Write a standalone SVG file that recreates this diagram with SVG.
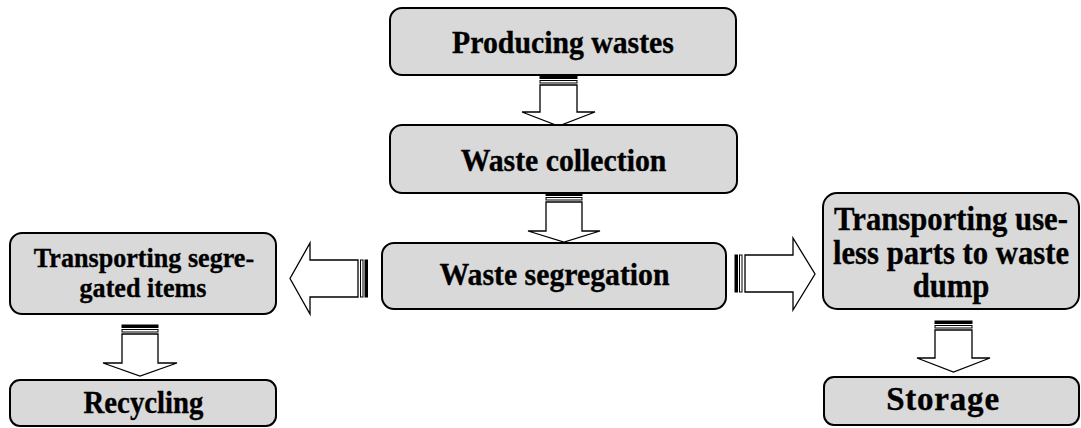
<svg xmlns="http://www.w3.org/2000/svg" width="1081" height="428" viewBox="0 0 1081 428">
<style>
.box{fill:#d9d9d9;stroke:#000;stroke-width:2}
.t{font-family:"Liberation Serif","Times New Roman",serif;font-weight:bold;fill:#000;stroke:#000;stroke-width:0.35;text-anchor:middle}
.arr{fill:#fff;stroke:#000;stroke-width:1.3;stroke-linejoin:miter}
.sk{fill:#000;stroke:#000;stroke-width:1}
.sw{fill:#fff;stroke:#000;stroke-width:1}
</style>
<rect width="1081" height="428" fill="#fff"/>
<g id="connectors">
  <g id="a1">
    <rect class="sk" x="540" y="76" width="37" height="2.5"/>
    <rect class="sw" x="540" y="80.5" width="37" height="2.5"/>
    <polygon class="arr" points="540,85 540,112 522,112 558.5,126 595,112 577,112 577,85"/>
  </g>
  <g id="a2">
    <rect class="sk" x="546" y="193" width="36" height="2.5"/>
    <rect class="sw" x="546" y="197.5" width="36" height="2.5"/>
    <polygon class="arr" points="546,202 546,231 528,231 564,242 600,231 582,231 582,202"/>
  </g>
  <g id="a3">
    <rect class="sk" x="365" y="260" width="2.5" height="37"/>
    <rect class="sw" x="360.5" y="260" width="2.5" height="37"/>
    <polygon class="arr" points="358,260 310,260 310,243 290,278.5 310,314 310,297 358,297"/>
  </g>
  <g id="a4">
    <rect class="sk" x="735" y="255" width="2.5" height="37"/>
    <rect class="sw" x="739.5" y="255" width="2.5" height="37"/>
    <polygon class="arr" points="745,255 793,255 793,238 815,274 793,310 793,292 745,292"/>
  </g>
  <g id="a5">
    <rect class="sk" x="122" y="325" width="36" height="2.5"/>
    <rect class="sw" x="122" y="329.5" width="36" height="2.5"/>
    <polygon class="arr" points="122,334 122,363 103,363 140,376 177,363 158,363 158,334"/>
  </g>
  <g id="a6">
    <rect class="sk" x="935" y="321" width="37" height="2.5"/>
    <rect class="sw" x="935" y="325.5" width="37" height="2.5"/>
    <polygon class="arr" points="935,330 935,358 917,358 953.5,372 990,358 972,358 972,330"/>
  </g>
</g>
<g id="n1">
  <rect class="box" x="390" y="8" width="346" height="67" rx="12"/>
  <text class="t" transform="matrix(0.93 0 0 1 563 0)" x="0" y="53" font-size="32">Producing wastes</text>
</g>
<g id="n2">
  <rect class="box" x="390" y="125" width="347" height="68" rx="12"/>
  <text class="t" transform="matrix(0.93 0 0 1 563.5 0)" x="0" y="171" font-size="32">Waste collection</text>
</g>
<g id="n3">
  <rect class="box" x="382" y="243" width="344" height="66" rx="12"/>
  <text class="t" transform="matrix(0.93 0 0 1 554.5 0)" x="0" y="285" font-size="32">Waste segregation</text>
</g>
<g id="n4">
  <rect class="box" x="10" y="233" width="266" height="81" rx="12"/>
  <text class="t" transform="matrix(0.95 0 0 1 144 0)" x="0" y="267" font-size="27.5">Transporting segre-</text>
  <text class="t" transform="matrix(0.95 0 0 1 143 0)" x="0" y="297" font-size="27.5">gated items</text>
</g>
<g id="n5">
  <rect class="box" x="10" y="380" width="266" height="46" rx="10"/>
  <text class="t" transform="matrix(0.93 0 0 1 143.5 0)" x="0" y="413" font-size="31">Recycling</text>
</g>
<g id="n6">
  <rect class="box" x="823" y="193" width="256" height="116" rx="14"/>
  <text class="t" transform="matrix(0.93 0 0 1 951 0)" x="0" y="230" font-size="33">Transporting use-</text>
  <text class="t" transform="matrix(0.93 0 0 1 951 0)" x="0" y="264" font-size="33">less parts to waste</text>
  <text class="t" transform="matrix(0.93 0 0 1 951 0)" x="0" y="297" font-size="33">dump</text>
</g>
<g id="n7">
  <rect class="box" x="824" y="377" width="255" height="48" rx="10"/>
  <text class="t" x="943" y="410" font-size="33" letter-spacing="0.8">Storage</text>
</g>
</svg>
